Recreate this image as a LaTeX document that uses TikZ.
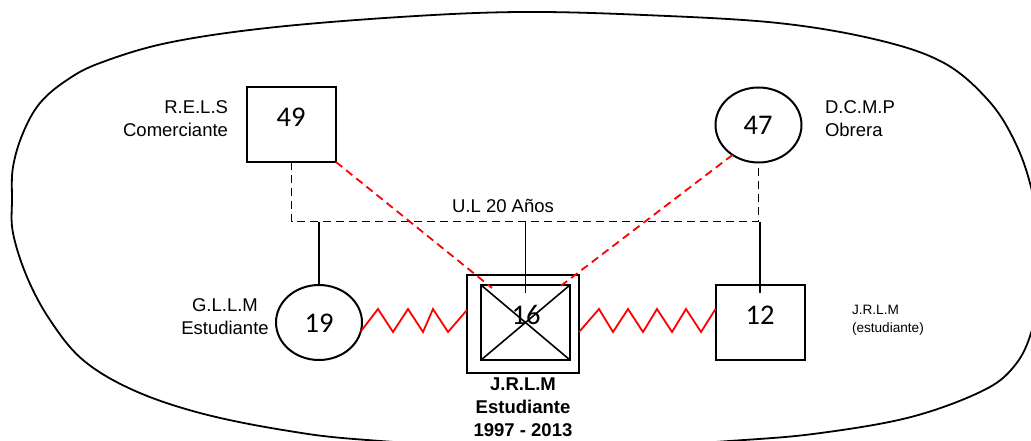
\documentclass[tikz,border=0pt]{standalone}
\usepackage{fontspec}
\setmainfont{Liberation Sans}
\newfontfamily\numfont{Carlito}
\usetikzlibrary{shapes.geometric}
\definecolor{zred}{RGB}{255,0,0}
\begin{document}
\begin{tikzpicture}[x=1pt,y=-1pt,
  every node/.style={inner sep=0pt,outer sep=0pt},
  person/.style={draw,line width=2pt},
  malebox/.style={person,rectangle,minimum width=89pt,minimum height=75pt},
  femalebox/.style={person,ellipse,minimum width=86pt,minimum height=75pt},
  num/.style={font=\numfont\fontsize{28.5}{28}\selectfont},
  lbl/.style={font=\fontsize{18.5}{23}\selectfont},
  smalllbl/.style={font=\fontsize{13.6}{18}\selectfont},
  boldlbl/.style={font=\bfseries\fontsize{18.5}{23}\selectfont},
  union/.style={line width=1.9pt,dash pattern=on 8pt off 5pt},
  descent/.style={line width=1.9pt},
  conflict/.style={zred,line width=1.8pt,line join=miter},
  distant/.style={zred,line width=1.8pt,dash pattern=on 8pt off 5pt},
  outline/.style={line width=1.8pt}
]
\useasboundingbox (0,0) rectangle (1031,441);
\begin{scope}
\clip (0,0) rectangle (1031,441);
\draw[outline] plot[smooth cycle,tension=0.6] coordinates {
 (520,12) (644,15) (778,23) (878,40) (944,63) (988,100) (1014,140) (1031,187)
 (1045,260) (1031,333) (1011,370) (978,393) (911,417) (828,432) (744,440)
 (555,450) (367,440) (283,430) (200,413) (133,390) (83,360) (50,320) (27,277)
 (13,233) (12,200) (13,167) (23,133) (40,103) (67,80) (100,63) (167,43) (267,28) (400,17)};
\end{scope}

% persons
\node[malebox] (b49) at (291.5,124.5) {};
\node[femalebox] (c47) at (758.5,125) {};
\node[femalebox] (c19) at (319,322.5) {};
\node[rectangle,draw,line width=2pt,minimum width=112pt,minimum height=98pt] (idxo) at (523,324) {};
\node[rectangle,draw,line width=2pt,minimum width=89pt,minimum height=75pt] (idxi) at (525.5,322.5) {};
\node[malebox] (b12) at (760,322.5) {};

% numbers
\node[num] (n49) at (291,117) {49};
\node[num] (n47) at (758,125) {47};
\node[num] (n19) at (319,323) {19};
\node[num] (n16) at (526,315) {16};
\node[num] (n12) at (760,315) {12};

% labels
\node[lbl,align=right,anchor=north east] (l49) at (228,101) {R.E.L.S\\Comerciante};
\node[lbl,align=left,anchor=north west] (l47) at (825,101) {D.C.M.P\\Obrera};
\node[lbl,align=center,anchor=north] (l19) at (225,299) {G.L.L.M\\Estudiante};
\node[smalllbl,align=left,anchor=north west] (l12) at (852,305.5) {J.R.L.M\\(estudiante)};
\node[boldlbl,align=center,anchor=north] (l16) at (523,378) {J.R.L.M\\Estudiante\\1997 - 2013};
\node[lbl,anchor=base] (lu) at (503,212) {U.L 20 Años};

% union and descent
\coordinate (mline) at (0,221.5);
\draw[union] (b49.south) -- (b49.south |- mline) -- (c47.south |- mline) -- (c47.south);
\coordinate (kid16) at (525.5,293);
\draw[descent] (c19.north |- mline) -- (c19.north);
\draw[descent] (kid16 |- mline) -- (kid16);
\draw[descent] (b12.north |- mline) -- ([yshift=-8pt]b12.north);

% index cross
\draw[line width=1.6pt] (idxi.north west) -- (idxi.south east);
\draw[line width=1.6pt] (idxi.north east) -- (idxi.south west);

% distant relations
\coordinate (dl) at (492,288);
\coordinate (dr) at (558,288);
\draw[distant] (b49.south east) -- (dl);
\draw[distant] (c47.229) -- (dr);

% conflict zigzags
\draw[conflict] (c19.-12) -- (378,309) -- (393,332) -- (408,309) -- (423,332) -- (433,309) -- (448,332) -- ([yshift=14pt]idxo.west);
\draw[conflict] ([yshift=-8pt]idxo.east) -- (599,309) -- (613,332) -- (628,309) -- (643,332) -- (657,309) -- (672,332) -- (686,309) -- (701,332) -- ([yshift=13.5pt]b12.west);
\end{tikzpicture}
\end{document}
